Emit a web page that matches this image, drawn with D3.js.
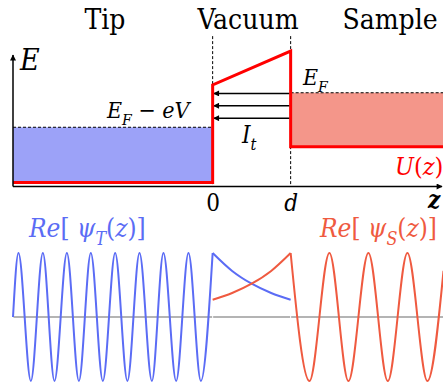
<!DOCTYPE html>
<html>
<head>
<meta charset="utf-8">
<script src="https://cdn.jsdelivr.net/npm/d3@7"></script>
<style>
body { margin: 0; background: #fff; }
svg { display: block; }
text { font-family: "DejaVu Serif Condensed", "DejaVu Serif", serif; font-stretch: condensed; }
.it { font-style: italic; }
</style>
</head>
<body>
<div id="chart"></div>
<script>
// energy diagram, z in units of the gap d, E in arbitrary units
var zRange = [-2.56, 2.96];
var tipU = 0.3, tipEF = 4.55;
var sampleU = 3.05, sampleEF = 7.2;
var barrier = [7.8, 10.4];          // U(z) at z = 0 and z = d
var currentLevels = [7.15, 6.2, 5.25];
var tickValues = [0, 1];
var tickLabels = ["0", "d"];
var regionNames = ["Tip", "Vacuum", "Sample"];

// wave functions, extrema
var psiTipZ = [-2.56, -2.49, -2.331, -2.177, -2.028, -1.869, -1.715, -1.562, -1.408,
               -1.25, -1.093, -0.938, -0.779, -0.631, -0.468, -0.31, -0.151, 0];
var psiTipVal = [0, 1, -1, 1, -1, 1, -1, 1, -1, 1, -1, 1, -1, 1, -1, 1, -1, 1];
var vacZ = [0, 0.25, 0.5, 0.75, 1];
var psiTipVac = [1, 0.72, 0.52, 0.375, 0.27];
var psiSampleVac = [0.27, 0.375, 0.52, 0.72, 1];
var psiSampleZ = [1, 1.241, 1.497, 1.741, 1.997, 2.246, 2.497, 2.754, 2.96];
var psiSampleVal = [1, -1, 1, -1, 1, -1, 1, -1, 0.72];

var w = 443, h = 383;
var blue = "#5b6cf5", red = "#ef5a40";

var svg = d3.select("#chart").append("svg")
    .attr("width", w)
    .attr("height", h);

var x = d3.scaleLinear().domain(zRange).range([13, 443.5]);
var yE = d3.scaleLinear().domain([0, 10.1]).range([186.5, 55]);
var yPsi = d3.scaleLinear().domain([-1, 1]).range([381, 253]);

var defs = svg.append("defs");
defs.append("marker")
    .attr("id", "arr")
    .attr("viewBox", "0 0 10 10")
    .attr("refX", 9).attr("refY", 5)
    .attr("markerUnits", "userSpaceOnUse")
    .attr("markerWidth", 7).attr("markerHeight", 6)
    .attr("orient", "auto")
    .append("path")
    .attr("d", "M0,0L10,5L0,10z")
    .attr("fill", "#000");

// filled states
svg.append("rect")
    .attr("x", x(zRange[0]))
    .attr("y", yE(tipEF))
    .attr("width", x(0) - x(zRange[0]))
    .attr("height", yE(tipU) - yE(tipEF))
    .attr("fill", "#9ca2f8");

svg.append("rect")
    .attr("x", x(1))
    .attr("y", yE(sampleEF))
    .attr("width", x(zRange[1]) - x(1))
    .attr("height", yE(sampleU) - yE(sampleEF))
    .attr("fill", "#f4968a");

// dashed guides
var dash = svg.append("g")
    .attr("stroke", "#000")
    .attr("stroke-width", 1)
    .attr("stroke-dasharray", "3,2")
    .attr("fill", "none");

dash.selectAll("line.v")
    .data(tickValues)
    .enter().append("line")
    .attr("class", "v")
    .attr("x1", d => x(d)).attr("x2", d => x(d))
    .attr("y1", yE(11.55)).attr("y2", yE(0));

dash.append("line")
    .attr("x1", x(zRange[0])).attr("x2", x(0))
    .attr("y1", yE(tipEF)).attr("y2", yE(tipEF));

dash.append("line")
    .attr("x1", x(1)).attr("x2", x(zRange[1]))
    .attr("y1", yE(sampleEF)).attr("y2", yE(sampleEF));

// tunnelling current arrows
svg.selectAll("line.cur")
    .data(currentLevels)
    .enter().append("line")
    .attr("class", "cur")
    .attr("x1", x(1) - 1).attr("x2", x(0) + 1)
    .attr("y1", d => yE(d)).attr("y2", d => yE(d))
    .attr("stroke", "#000")
    .attr("stroke-width", 1.5)
    .attr("marker-end", "url(#arr)");

// potential U(z)
var potZ = [zRange[0], 0, 0, 1, 1, zRange[1]];
var potE = [tipU, tipU, barrier[0], barrier[1], sampleU, sampleU];

svg.append("path")
    .datum(d3.range(potZ.length))
    .attr("d", d3.line().x(i => x(potZ[i])).y(i => yE(potE[i])))
    .attr("fill", "none")
    .attr("stroke", "#ff0000")
    .attr("stroke-width", 3);

// axes
var xAxis = svg.append("g")
    .attr("transform", "translate(0," + yE(0) + ")")
    .call(d3.axisBottom(x)
        .tickValues(tickValues)
        .tickFormat((d, i) => tickLabels[i])
        .tickSize(0)
        .tickPadding(7));
xAxis.select(".domain").remove();
xAxis.selectAll("text")
    .attr("font-size", 24)
    .attr("fill", "#000")
    .attr("font-family", null)
    .classed("it", (d, i) => i == 1);

svg.append("line")
    .attr("x1", x(zRange[0])).attr("x2", 442)
    .attr("y1", yE(0)).attr("y2", yE(0))
    .attr("stroke", "#000").attr("stroke-width", 1.5)
    .attr("marker-end", "url(#arr)");

svg.append("line")
    .attr("x1", x(zRange[0])).attr("x2", x(zRange[0]))
    .attr("y1", yE(0)).attr("y2", yE(10.1))
    .attr("stroke", "#000").attr("stroke-width", 1.5)
    .attr("marker-end", "url(#arr)");

// region titles
var titleX = [105, 248, 390];
svg.selectAll("text.title")
    .data(regionNames)
    .enter().append("text")
    .attr("class", "title")
    .attr("x", (d, i) => titleX[i])
    .attr("y", 29)
    .attr("text-anchor", "middle")
    .attr("font-size", 28)
    .text(d => d);

// math labels
function mathLabel(parts, px, py, size, color) {
    var t = svg.append("text")
        .attr("x", px).attr("y", py)
        .attr("font-size", size)
        .attr("fill", color);
    var shift = 0;
    parts.forEach(function (p) {
        var s = t.append("tspan").text(p.t);
        if (p.it) s.attr("class", "it");
        var target = p.sub ? size * 0.3 : 0;
        if (target != shift) { s.attr("dy", target - shift); shift = target; }
        if (p.sub) s.attr("font-size", size * 0.68);
    });
    return t;
}

mathLabel([{t: "E", it: 1}], 20, 70, 30, "#000");
mathLabel([{t: "E", it: 1}, {t: "F", it: 1, sub: 1}, {t: " \u2212 "}, {t: "eV", it: 1}], 107, 118, 23, "#000");
mathLabel([{t: "E", it: 1}, {t: "F", it: 1, sub: 1}], 303, 85, 23, "#000");
mathLabel([{t: "I", it: 1}, {t: "t", it: 1, sub: 1}], 242, 143, 24, "#000");
mathLabel([{t: "U", it: 1}, {t: "("}, {t: "z", it: 1}, {t: ")"}], 395, 175, 25, "#ff0000");
mathLabel([{t: "z", it: 1}], 428, 208, 24, "#000").attr("font-weight", "bold");
mathLabel([{t: "Re", it: 1}, {t: "[ "}, {t: "\u03c8", it: 1}, {t: "T", it: 1, sub: 1}, {t: "("}, {t: "z", it: 1}, {t: ")]"}], 29, 237, 26, blue);
mathLabel([{t: "Re", it: 1}, {t: "[ "}, {t: "\u03c8", it: 1}, {t: "S", it: 1, sub: 1}, {t: "("}, {t: "z", it: 1}, {t: ")]"}], 320, 237, 26, red);

// wave functions
var gray = svg.append("g").attr("stroke", "#b4b4b4").attr("stroke-width", 2);
[[zRange[0], 0], [0, 1], [1, zRange[1]]].forEach(function (seg) {
    gray.append("line")
        .attr("x1", x(seg[0]) + 0.5).attr("x2", x(seg[1]) - 0.5)
        .attr("y1", yPsi(0)).attr("y2", yPsi(0));
});

function wave(zs, vals, color) {
    svg.append("path")
        .datum(d3.range(zs.length))
        .attr("d", d3.line().curve(d3.curveMonotoneX)
            .x(i => x(zs[i])).y(i => yPsi(vals[i])))
        .attr("fill", "none")
        .attr("stroke", color)
        .attr("stroke-width", 2);
}

wave(psiTipZ, psiTipVal, blue);
wave(vacZ, psiTipVac, blue);
wave(vacZ, psiSampleVac, red);
wave(psiSampleZ, psiSampleVal, red);
</script>
</body>
</html>
